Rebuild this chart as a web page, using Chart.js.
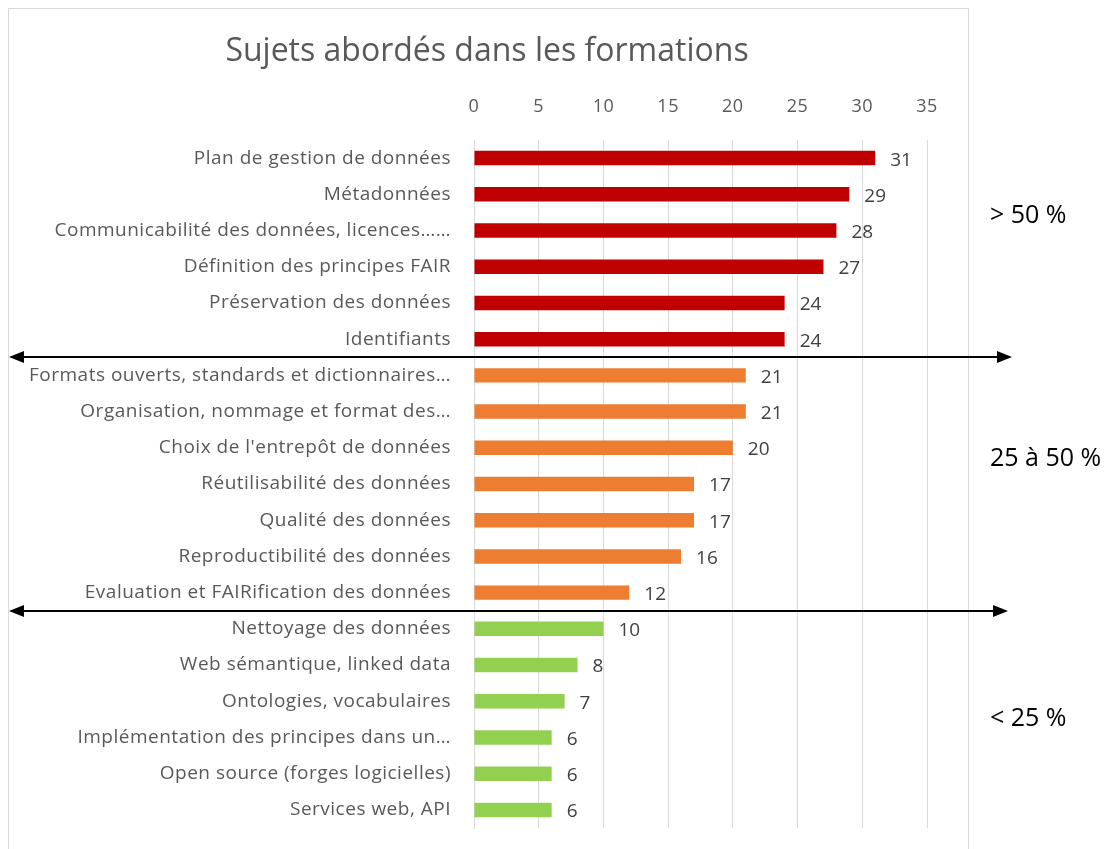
<!DOCTYPE html>
<html>
<head>
<meta charset="utf-8">
<script src="https://cdn.jsdelivr.net/npm/chart.js@4"></script>
<style>
  html, body { margin: 0; padding: 0; background: #fff; }
  #wrap { position: relative; width: 1111px; height: 849px; }
</style>
</head>
<body>
<div id="wrap"><canvas id="c" width="1111" height="849"></canvas></div>
<script>
const chartTitle = 'Sujets abordés dans les formations';

const topics = [
  'Plan de gestion de données',
  'Métadonnées',
  'Communicabilité des données, licences……',
  'Définition des principes FAIR',
  'Préservation des données',
  'Identifiants',
  'Formats ouverts, standards et dictionnaires…',
  'Organisation, nommage et format des…',
  "Choix de l'entrepôt de données",
  'Réutilisabilité des données',
  'Qualité des données',
  'Reproductibilité des données',
  'Evaluation et FAIRification des données',
  'Nettoyage des données',
  'Web sémantique, linked data',
  'Ontologies, vocabulaires',
  'Implémentation des principes dans un…',
  'Open source (forges logicielles)',
  'Services web, API'
];
const counts = [31, 29, 28, 27, 24, 24, 21, 21, 20, 17, 17, 16, 12, 10, 8, 7, 6, 6, 6];

// group of each topic: 0 = > 50 %, 1 = 25 à 50 %, 2 = < 25 %
const groupOf = [0, 0, 0, 0, 0, 0, 1, 1, 1, 1, 1, 1, 1, 2, 2, 2, 2, 2, 2];
const groupColors = ['#C00000', '#ED7D31', '#92D050'];
const groupLabels = ['> 50 %', '25 à 50 %', '< 25 %'];
// where each group label sits, in category units, and where the arrows split groups
const groupLabelAt = [1.6, 8.3, 15.5];
const splitAt = [5.5, 12.5];

const FONT = '"Open Sans", Lato, sans-serif';
const GREY = '#595959';

// title, chart border, bar values, separators and group labels
const extras = {
  id: 'extras',
  beforeDraw(chart) {
    chart.ctx.letterSpacing = '0.5px';
  },
  afterDraw(chart) {
    const { ctx, scales: { x, y } } = chart;
    ctx.save();
    ctx.letterSpacing = '0px';

    ctx.strokeStyle = '#d9d9d9';
    ctx.lineWidth = 1;
    ctx.strokeRect(8.5, 8.5, 960, 860);

    ctx.fillStyle = GREY;
    ctx.font = '32px ' + FONT;
    ctx.textAlign = 'center';
    ctx.textBaseline = 'middle';
    ctx.fillText(chartTitle, 487, 52);

    ctx.fillStyle = '#404040';
    ctx.font = '19px ' + FONT;
    ctx.textAlign = 'left';
    counts.forEach((v, i) => {
      ctx.fillText(String(v), x.getPixelForValue(v) + 15, y.getPixelForValue(i) + 2);
    });

    ctx.strokeStyle = '#000';
    ctx.fillStyle = '#000';
    ctx.lineWidth = 2;
    const ends = [1012, 1008];
    splitAt.forEach((s, k) => {
      const py = Math.round(y.getPixelForValue(s));
      const x0 = 9, x1 = ends[k];
      ctx.beginPath();
      ctx.moveTo(x0 + 10, py);
      ctx.lineTo(x1 - 10, py);
      ctx.stroke();
      ctx.beginPath();
      ctx.moveTo(x0, py);
      ctx.lineTo(x0 + 15, py - 6);
      ctx.lineTo(x0 + 15, py + 6);
      ctx.closePath();
      ctx.fill();
      ctx.beginPath();
      ctx.moveTo(x1, py);
      ctx.lineTo(x1 - 15, py - 6);
      ctx.lineTo(x1 - 15, py + 6);
      ctx.closePath();
      ctx.fill();
    });

    ctx.fillStyle = '#000';
    ctx.font = '25px ' + FONT;
    ctx.textAlign = 'left';
    groupLabels.forEach((t, k) => {
      ctx.fillText(t, 990, y.getPixelForValue(groupLabelAt[k]));
    });

    ctx.restore();
  }
};

new Chart(document.getElementById('c'), {
  type: 'bar',
  data: {
    labels: topics,
    datasets: [{
      data: counts,
      backgroundColor: groupOf.map(g => groupColors[g]),
      barPercentage: 0.4,
      categoryPercentage: 1,
    }],
  },
  options: {
    indexAxis: 'y',
    responsive: false,
    animation: false,
    layout: { padding: { left: 8, right: 184, top: 80, bottom: 21 } },
    plugins: {
      legend: { display: false },
      tooltip: { enabled: false },
    },
    scales: {
      x: {
        position: 'top',
        min: 0,
        max: 35,
        ticks: { stepSize: 5, color: GREY, font: { family: FONT, size: 18 }, padding: 22, maxRotation: 0 },
        grid: { color: '#d9d9d9', drawTicks: false },
        border: { display: false },
        afterFit: (s) => { s.height = 60; },
      },
      y: {
        ticks: { color: GREY, font: { family: FONT, size: 19 }, padding: 23, autoSkip: false },
        grid: { display: false, drawTicks: false },
        border: { color: '#d9d9d9' },
        afterFit: (s) => { s.width = 466; s.paddingTop = 0; s.paddingBottom = 0; },
      },
    },
  },
  plugins: [extras],
});
</script>
</body>
</html>
